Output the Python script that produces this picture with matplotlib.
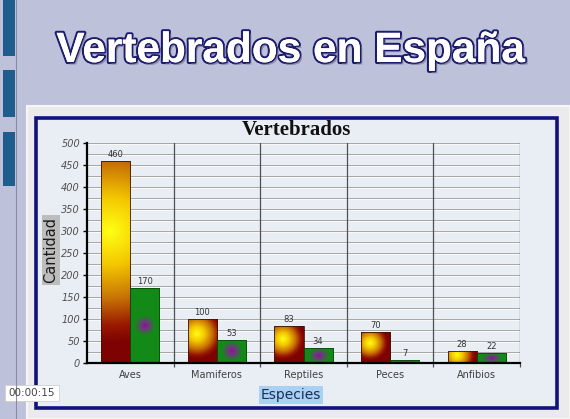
import numpy as np
import matplotlib
matplotlib.use("Agg")
import matplotlib.pyplot as plt
from matplotlib.patches import Rectangle
from matplotlib.colors import LinearSegmentedColormap
import matplotlib.patheffects as pe

# ---- data ----
categories = ["Aves", "Mamiferos", "Reptiles", "Peces", "Anfibios"]
serie_total = [460, 100, 83, 70, 28]
serie_amenazadas = [170, 53, 34, 7, 22]
y_ticks = [0, 50, 100, 150, 200, 250, 300, 350, 400, 450, 500]

W, H = 570, 419
fig = plt.figure(figsize=(W / 100, H / 100), dpi=100)
fig.patch.set_facecolor("#bec1da")

def fx(px):
    return px / W

def fy(py):
    return 1 - py / H

bg = fig.add_axes([0, 0, 1, 1], zorder=0)
bg.set_xlim(0, W)
bg.set_ylim(H, 0)
bg.axis("off")

# left blue bars of the slide
for (y0, y1) in [(0, 56), (70, 117), (132, 186)]:
    bg.add_patch(Rectangle((3, y0), 12, y1 - y0, color="#1f5d8e", lw=0))
bg.plot([16, 16], [0, H], color="#8a8ca0", lw=0.8)

# chart panel
bg.add_patch(Rectangle((27, 106), W - 27, H - 106, facecolor="#ebebeb",
                       edgecolor="#f6f6f6", lw=1.5))
bg.add_patch(Rectangle((36, 118), 521, 290, facecolor="#e9eef5",
                       edgecolor="#12127e", lw=2.6))

# big slide title
bg.text(291, 51, "Vertebrados en España", ha="center", va="center",
        fontsize=30.5, fontweight="bold", family="Liberation Sans",
        color="white",
        path_effects=[pe.withStroke(linewidth=3.0, foreground="#1c1c6e"),
                      pe.SimplePatchShadow(offset=(1.8, -1.8),
                                           shadow_rgbFace="#8a8aa8", alpha=0.9),
                      pe.withStroke(linewidth=2.2, foreground="#1c1c6e"),
                      pe.Normal()])

# chart title
bg.text(296, 130, "Vertebrados", ha="center", va="center", fontsize=15,
        fontweight="bold", family="Liberation Serif", color="#111111")

# axis labels
bg.text(51, 250, "Cantidad", ha="center", va="center", rotation=90,
        fontsize=10.5, color="#1a1a1a", family="DejaVu Sans",
        bbox=dict(boxstyle="square,pad=0.12", facecolor="#bdbdbd",
                  edgecolor="none"))
bg.text(291, 395, "Especies", ha="center", va="center", fontsize=10,
        color="#1c2e5a", family="DejaVu Sans",
        bbox=dict(boxstyle="square,pad=0.12", facecolor="#a9d2f2",
                  edgecolor="none"))

# timestamp
bg.add_patch(Rectangle((5, 385), 54, 16, facecolor="white",
                       edgecolor="#d0d0d0", lw=0.6))
bg.text(32, 393, "00:00:15", ha="center", va="center", fontsize=7.5,
        color="#444444", family="DejaVu Sans")

# ---- plot area ----
ax_l, ax_r, ax_t, ax_b = 87, 520, 143, 363
ax = fig.add_axes([fx(ax_l), fy(ax_b), fx(ax_r - ax_l), (ax_b - ax_t) / H],
                  zorder=2)
ax.patch.set_alpha(0)
n = len(categories)
ax.set_xlim(-0.5, n - 0.5)
ax.set_ylim(0, 500)

px_x = (ax_r - ax_l) / n
px_y = (ax_b - ax_t) / 500.0

for g in np.arange(25, 501, 25):
    ax.axhline(g, color="#a6a6a6", lw=0.7, zorder=1)
    ax.axhline(g - 1.0 / px_y, color="#fafafa", lw=0.7, zorder=1)
for b in np.arange(0.5, n, 1.0):
    ax.axvline(b, color="#505050", lw=0.9, zorder=1.5)

for s in ["top", "right"]:
    ax.spines[s].set_visible(False)
ax.spines["left"].set_linewidth(1.6)
ax.spines["bottom"].set_linewidth(1.6)
ax.spines["left"].set_zorder(5)
ax.spines["bottom"].set_zorder(5)

ax.set_yticks(y_ticks)
ax.set_yticklabels([str(t) for t in y_ticks], fontsize=7, style="italic",
                   color="#505050")
ax.tick_params(axis="y", length=3, width=1, pad=2)
ax.set_xticks(np.arange(0.5, n, 1.0))
ax.set_xticklabels([])
ax.tick_params(axis="x", length=3, width=0.9, color="#505050")
ax.set_xticks(np.arange(n), minor=True)
ax.set_xticklabels(categories, minor=True, fontsize=7, color="#404040")
ax.tick_params(axis="x", which="minor", length=0, pad=5)

cmap_o = LinearSegmentedColormap.from_list("o", [
    (0.0, "#ffff14"), (0.3, "#f4c800"), (0.6, "#c87406"),
    (0.85, "#981800"), (1.0, "#7e0202")])
cmap_g = LinearSegmentedColormap.from_list("g", [
    (0.0, "#900c9c"), (0.35, "#703880"), (1.0, "#138a17")])

bw = 0.335
x = np.arange(n)
bars_o = ax.bar(x - bw / 2, serie_total, width=bw, facecolor="none",
                edgecolor="#3a1606", lw=0.6, zorder=4)
bars_g = ax.bar(x + bw / 2, serie_amenazadas, width=bw, facecolor="none",
                edgecolor="#0b4a0b", lw=0.6, zorder=4)

def fill_bar(patch, kind):
    x0, y0 = patch.get_x(), patch.get_y()
    w, h = patch.get_width(), patch.get_height()
    if h <= 0:
        return
    wp, hp = w * px_x, h * px_y
    nu, nv = 60, max(int(hp * 2), 8)
    u = (np.arange(nu) + 0.5) / nu
    v = (np.arange(nv) + 0.5) / nv
    U, V = np.meshgrid(u, v)
    if kind == "o":
        R = max(0.55 * hp, 0.6 * wp)
        d = np.sqrt(((U - 0.3) * wp) ** 2 + ((V - 0.65) * hp) ** 2) / R
        cm = cmap_o
    else:
        rx = 0.34 * wp
        ry = max(min(0.34 * wp, 0.5 * hp), 1.0)
        d = np.sqrt(((U - 0.5) * wp / rx) ** 2 + ((V - 0.5) * hp / ry) ** 2)
        cm = cmap_g
    img = cm(np.clip(d, 0, 1))
    im = ax.imshow(img, extent=[x0, x0 + w, y0, y0 + h], origin="lower",
                   aspect="auto", zorder=3, interpolation="bilinear")
    im.set_clip_path(patch)

for p in bars_o:
    fill_bar(p, "o")
for p in bars_g:
    fill_bar(p, "g")

ax.set_xlim(-0.5, n - 0.5)
ax.set_ylim(0, 500)

for xi, val in zip(x - bw / 2, serie_total):
    ax.annotate(str(val), (xi, val), xytext=(0, 1.5), textcoords="offset points",
                ha="center", va="bottom", fontsize=6, color="#333333", zorder=6)
for xi, val in zip(x + bw / 2, serie_amenazadas):
    ax.annotate(str(val), (xi, val), xytext=(0, 1.5), textcoords="offset points",
                ha="center", va="bottom", fontsize=6, color="#333333", zorder=6)

fig.savefig("out.png", dpi=100)
